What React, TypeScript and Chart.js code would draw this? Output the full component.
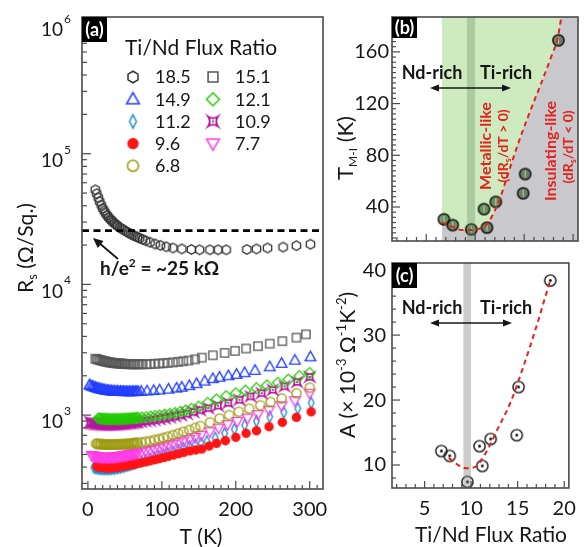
import React, { useEffect, useRef } from 'react';
import { Chart, registerables } from 'chart.js';

Chart.register(...registerables);

// ---------------- Panel (a): Rs vs T for each Ti/Nd flux ratio ----------------
const SERIES_LABELS = ['18.5', '15.1', '14.9', '12.1', '11.2', '10.9', '9.6', '7.7', '6.8'];

const T_185 = [10, 12, 14, 16, 18, 20, 22, 24, 26, 28, 30, 32, 34, 36, 38, 40, 43, 46, 49, 52, 55, 58, 61, 64, 67, 70, 74, 78, 84, 91, 98, 106, 115, 127, 140, 151, 165, 176, 187, 215, 228, 243, 264, 282, 301];
const R_185 = [53000, 49500, 46000, 43000, 40500, 38200, 36500, 35000, 33700, 32600, 31600, 30800, 30000, 29300, 28700, 28100, 27300, 26600, 26000, 25400, 24800, 24300, 23800, 23400, 23000, 22600, 22100, 21600, 21000, 20400, 19900, 19400, 19000, 18700, 18500, 18400, 18400, 18400, 18400, 18500, 18700, 19000, 19300, 19800, 20300];

const T_151 = [10, 12, 14, 16, 18, 20, 22, 24, 26, 28, 30, 32, 34, 36, 38, 40, 42, 44, 46, 48, 50, 52, 55, 58, 61, 64, 67, 70, 74, 79, 84, 90, 96, 102, 108, 115, 122, 129, 136, 145, 154, 169, 185, 199, 214, 230, 246, 263, 282, 295];
const R_151 = [2700, 2680, 2660, 2640, 2620, 2600, 2585, 2570, 2555, 2540, 2530, 2520, 2510, 2500, 2495, 2490, 2485, 2480, 2475, 2470, 2465, 2460, 2455, 2450, 2450, 2450, 2450, 2450, 2452, 2455, 2460, 2470, 2480, 2495, 2510, 2530, 2555, 2585, 2615, 2670, 2750, 2870, 2990, 3100, 3230, 3370, 3520, 3680, 3920, 4150];

const T_149 = [2, 4, 6, 8, 10, 12, 14, 16, 18, 20, 22, 24, 26, 28, 30, 32, 34, 36, 38, 40, 42, 44, 46, 48, 50, 52, 54, 56, 58, 60, 62, 64, 66, 68, 72, 80, 89, 97, 109, 120, 127, 137, 147, 158, 169, 178, 190, 201, 212, 226, 246, 262, 280, 301];
const R_149 = [1700, 1680, 1660, 1645, 1630, 1615, 1600, 1590, 1580, 1570, 1560, 1552, 1545, 1540, 1535, 1530, 1527, 1524, 1522, 1520, 1518, 1516, 1515, 1514, 1513, 1512, 1512, 1512, 1512, 1512, 1513, 1514, 1515, 1516, 1520, 1530, 1542, 1555, 1580, 1610, 1635, 1680, 1740, 1820, 1900, 1950, 2000, 2050, 2110, 2200, 2340, 2490, 2630, 2790];

const T_121 = [14, 16, 18, 20, 22, 24, 26, 28, 30, 32, 34, 36, 38, 40, 42, 44, 46, 48, 50, 52, 54, 56, 58, 60, 62, 64, 66, 68, 73, 79, 85, 91, 97, 104, 111, 118, 125, 132, 140, 150, 162, 174, 187, 200, 213, 228, 242, 257, 271, 286, 300];
const R_121 = [945, 942, 940, 938, 936, 935, 934, 933, 932, 932, 932, 932, 932, 932, 933, 934, 935, 936, 937, 938, 940, 942, 944, 946, 948, 950, 952, 954, 958, 965, 975, 985, 997, 1010, 1025, 1040, 1060, 1085, 1115, 1160, 1240, 1320, 1400, 1470, 1540, 1610, 1690, 1770, 1870, 1990, 2100];

const T_112 = [8, 10, 12, 14, 16, 18, 20, 22, 24, 26, 28, 30, 32, 34, 36, 38, 40, 42, 44, 46, 48, 50, 52, 54, 56, 58, 60, 62, 64, 66, 72, 78, 84, 90, 96, 102, 108, 115, 122, 129, 137, 145, 153, 161, 172, 185, 198, 212, 228, 246, 265, 284, 302];
const R_112 = [398, 395, 393, 391, 390, 389, 388, 388, 388, 388, 388, 389, 390, 391, 392, 394, 396, 398, 400, 402, 405, 408, 411, 414, 417, 420, 423, 426, 430, 434, 442, 452, 462, 473, 485, 497, 510, 525, 541, 558, 577, 597, 612, 630, 670, 724, 780, 839, 900, 970, 1050, 1125, 1240];

const T_109 = [3, 5, 7, 9, 11, 13, 15, 17, 19, 21, 23, 25, 27, 29, 31, 33, 35, 37, 39, 41, 43, 45, 47, 49, 51, 53, 55, 57, 59, 61, 63, 65, 67, 72, 78, 84, 90, 97, 104, 111, 118, 126, 134, 143, 152, 163, 176, 190, 205, 220, 235, 250, 266, 283, 300];
const R_109 = [880, 872, 866, 862, 858, 855, 853, 851, 850, 849, 848, 848, 848, 848, 848, 849, 850, 851, 852, 853, 855, 857, 859, 861, 863, 866, 869, 872, 875, 878, 881, 884, 887, 893, 900, 910, 920, 932, 946, 962, 980, 1000, 1025, 1055, 1090, 1130, 1180, 1240, 1310, 1390, 1470, 1560, 1660, 1790, 1960];

const T_96 = [12, 14, 16, 18, 20, 22, 24, 26, 28, 30, 32, 34, 36, 38, 40, 42, 44, 46, 48, 50, 52, 54, 56, 58, 60, 62, 64, 66, 68, 73, 79, 85, 91, 97, 103, 109, 116, 123, 130, 138, 146, 154, 164, 174, 186, 200, 214, 228, 245, 263, 282, 302];
const R_96 = [405, 402, 400, 398, 397, 396, 395, 395, 395, 395, 396, 397, 398, 399, 400, 402, 404, 406, 408, 410, 412, 414, 416, 418, 420, 422, 424, 426, 428, 433, 440, 448, 456, 465, 474, 484, 495, 507, 519, 532, 541, 550, 580, 608, 637, 676, 725, 759, 815, 880, 960, 1059];

const T_77 = [5, 7, 9, 11, 13, 15, 17, 19, 21, 23, 25, 27, 29, 31, 33, 35, 37, 39, 41, 43, 45, 47, 49, 51, 53, 55, 57, 59, 61, 63, 65, 67, 72, 78, 84, 90, 96, 102, 108, 115, 122, 129, 137, 145, 153, 165, 177, 189, 202, 216, 230, 245, 262, 280, 300];
const R_77 = [492, 488, 485, 482, 480, 478, 477, 476, 475, 475, 475, 475, 475, 476, 477, 478, 479, 480, 482, 484, 486, 488, 490, 492, 494, 497, 500, 503, 506, 509, 512, 515, 520, 528, 537, 547, 558, 570, 583, 598, 614, 632, 652, 675, 700, 746, 795, 845, 895, 950, 1010, 1090, 1180, 1290, 1470];

const T_68 = [11, 13, 15, 17, 19, 21, 23, 25, 27, 29, 31, 33, 35, 37, 39, 41, 43, 45, 47, 49, 51, 53, 55, 57, 59, 61, 63, 65, 67, 72, 78, 84, 90, 96, 102, 108, 115, 122, 129, 137, 145, 152, 165, 178, 191, 204, 218, 233, 247, 262, 282, 300];
const R_68 = [605, 603, 601, 600, 599, 598, 597, 596, 596, 596, 596, 596, 596, 596, 597, 597, 598, 598, 599, 600, 601, 602, 603, 605, 607, 609, 611, 613, 615, 619, 626, 634, 645, 657, 670, 684, 702, 722, 745, 770, 798, 825, 880, 940, 1000, 1060, 1120, 1190, 1260, 1340, 1470, 1620];

const H_E2 = 25812; // h/e^2 in ohm
const A_X_LABELS = [0, 100, 200, 300];
const A_Y_DECADES = [1e3, 1e4, 1e5, 1e6];

// ---------------- Panels (b) and (c) ----------------
const FLUX = [6.8, 7.7, 9.6, 10.9, 11.2, 12.1, 14.9, 15.1, 18.5];
const T_MI = [30.5, 26, 22.7, 38.4, 24, 44, 50.6, 65.5, 169];
const A_COEF = [12.15, 11.4, 7.4, 12.9, 9.85, 14.0, 14.6, 22.0, 38.4];

const B_BOUND_X = [6.6, 7.7, 8.6, 9.4, 10.3, 11.1, 11.8, 12.5, 13.2, 14.2, 15.4, 16.6, 17.8, 18.4, 18.8];
const B_BOUND_Y = [28, 24.8, 22.2, 22.2, 23.0, 26, 34, 46, 62, 85, 110, 133, 157, 170, 187];
const C_FIT_X = [7.6, 8.6, 9.5, 10.45, 11.2, 12.0, 12.8, 14.25, 15.6, 16.9, 18.45];
const C_FIT_Y = [11.1, 10.0, 9.5, 9.7, 11.0, 13.0, 15.4, 19.7, 25.1, 30.8, 38.2];
const STOICH_BAND = [9.15, 10.0];
const METALLIC_START = 6.6;
const B_Y_LABELS = [40, 80, 120, 160];
const C_Y_LABELS = [10, 20, 30, 40];
const BC_X_LABELS = [5, 10, 15, 20];

// ---------------- drawing helpers ----------------
const FONT = 'Lato, "Open Sans", "DejaVu Sans", sans-serif';
const INK = '#161616';
const FRAME = '#4a4a4a';
const RED = '#e3221b';
const W = 585;
const H = 547;

const fnt = (s: number, b = false) => `${b ? 'bold ' : ''}${s}px ${FONT}`;

function mk(kind: string, color: string, r: number, lw = 1.3): HTMLCanvasElement {
  const s = Math.ceil(2 * r + lw + 4);
  const c = document.createElement('canvas');
  c.width = s;
  c.height = s;
  const g = c.getContext('2d') as CanvasRenderingContext2D;
  const cx = s / 2;
  const cy = s / 2;
  g.lineWidth = lw;
  g.strokeStyle = color;
  g.fillStyle = color;
  g.beginPath();
  if (kind === 'hex') {
    for (let i = 0; i < 6; i++) {
      const a = Math.PI / 6 + (i * Math.PI) / 3;
      const x = cx + r * Math.cos(a);
      const y = cy + r * Math.sin(a);
      if (i === 0) g.moveTo(x, y);
      else g.lineTo(x, y);
    }
    g.closePath();
    g.stroke();
  } else if (kind === 'square') {
    const k = r * 0.82;
    g.rect(cx - k, cy - k, 2 * k, 2 * k);
    g.stroke();
  } else if (kind === 'tri') {
    g.moveTo(cx, cy - r);
    g.lineTo(cx + r * 0.95, cy + r * 0.68);
    g.lineTo(cx - r * 0.95, cy + r * 0.68);
    g.closePath();
    g.stroke();
  } else if (kind === 'tridown') {
    g.moveTo(cx, cy + r);
    g.lineTo(cx + r * 0.95, cy - r * 0.68);
    g.lineTo(cx - r * 0.95, cy - r * 0.68);
    g.closePath();
    g.stroke();
  } else if (kind === 'diamond') {
    g.moveTo(cx, cy - r);
    g.lineTo(cx + r, cy);
    g.lineTo(cx, cy + r);
    g.lineTo(cx - r, cy);
    g.closePath();
    g.stroke();
  } else if (kind === 'ndiamond') {
    g.moveTo(cx, cy - r);
    g.lineTo(cx + r * 0.5, cy);
    g.lineTo(cx, cy + r);
    g.lineTo(cx - r * 0.5, cy);
    g.closePath();
    g.stroke();
  } else if (kind === 'star4') {
    const k = r * 0.8;
    const q = k * 0.35;
    g.moveTo(cx - k, cy - k);
    g.quadraticCurveTo(cx, cy - q, cx + k, cy - k);
    g.quadraticCurveTo(cx + q, cy, cx + k, cy + k);
    g.quadraticCurveTo(cx, cy + q, cx - k, cy + k);
    g.quadraticCurveTo(cx - q, cy, cx - k, cy - k);
    g.closePath();
    g.lineWidth = lw + 0.4;
    g.stroke();
    g.beginPath();
    g.fillStyle = '#3b6b2a';
    g.arc(cx, cy, 1.1, 0, Math.PI * 2);
    g.fill();
  } else if (kind === 'circle') {
    g.arc(cx, cy, r, 0, Math.PI * 2);
    g.stroke();
  } else if (kind === 'fcircle') {
    g.arc(cx, cy, r, 0, Math.PI * 2);
    g.fill();
  } else if (kind === 'phi') {
    g.arc(cx, cy, r, 0, Math.PI * 2);
    g.fillStyle = 'rgba(10,50,0,0.5)';
    g.fill();
    g.stroke();
    g.beginPath();
    g.lineWidth = 1;
    g.strokeStyle = 'rgba(200,220,190,0.9)';
    g.moveTo(cx, cy - r * 0.6);
    g.lineTo(cx, cy + r * 0.6);
    g.stroke();
  } else if (kind === 'odot') {
    g.arc(cx, cy, r, 0, Math.PI * 2);
    g.stroke();
    g.beginPath();
    g.arc(cx, cy, 1.4, 0, Math.PI * 2);
    g.fill();
  }
  return c;
}

type Part = { t: string; s: number; dy?: number; b?: boolean };
function rich(ctx: any, parts: Part[], x: number, y: number, rot = 0, align = 'center', color = INK) {
  ctx.save();
  ctx.translate(x, y);
  if (rot) ctx.rotate(rot);
  ctx.fillStyle = color;
  ctx.textBaseline = 'alphabetic';
  ctx.textAlign = 'left';
  let w = 0;
  let maxS = 0;
  for (const p of parts) {
    ctx.font = fnt(p.s, p.b);
    w += ctx.measureText(p.t).width;
    maxS = Math.max(maxS, p.s);
  }
  let cx = align === 'center' ? -w / 2 : 0;
  const base = maxS * 0.36;
  for (const p of parts) {
    ctx.font = fnt(p.s, p.b);
    ctx.fillText(p.t, cx, base + (p.dy || 0));
    cx += ctx.measureText(p.t).width;
  }
  ctx.restore();
}

function head(ctx: any, x: number, y: number, ang: number, len = 8, half = 4) {
  ctx.beginPath();
  ctx.moveTo(x, y);
  ctx.lineTo(x - len * Math.cos(ang) + half * Math.sin(ang), y - len * Math.sin(ang) - half * Math.cos(ang));
  ctx.lineTo(x - len * Math.cos(ang) - half * Math.sin(ang), y - len * Math.sin(ang) + half * Math.cos(ang));
  ctx.closePath();
  ctx.fill();
}

function doubleArrow(ctx: any, x1: number, x2: number, y: number) {
  ctx.strokeStyle = INK;
  ctx.fillStyle = INK;
  ctx.lineWidth = 1.4;
  ctx.beginPath();
  ctx.moveTo(x1 + 4, y);
  ctx.lineTo(x2 - 4, y);
  ctx.stroke();
  head(ctx, x1, y, Math.PI, 9, 3.5);
  head(ctx, x2, y, 0, 9, 3.5);
}

function panelTag(ctx: any, tag: string, x: number, y: number, w: number, h: number) {
  ctx.fillStyle = '#000';
  ctx.fillRect(x, y, w, h);
  ctx.fillStyle = '#fff';
  ctx.font = fnt(18, true);
  ctx.textAlign = 'center';
  ctx.textBaseline = 'middle';
  ctx.fillText(tag, x + w / 2, y + h / 2 + 1);
}

type TickSpec = { id: string; side: string; major: (v: number) => boolean; maj: number; min: number };
function framePlugin(specs: TickSpec[], extra: (ctx: any, chart: any) => void) {
  return {
    id: 'frameTicks',
    afterDraw(chart: any) {
      const ctx = chart.ctx;
      const a = chart.chartArea;
      ctx.save();
      ctx.strokeStyle = FRAME;
      ctx.lineWidth = 1.2;
      for (const s of specs) {
        const sc = chart.scales[s.id];
        for (const t of sc.ticks) {
          const p = sc.getPixelForValue(t.value);
          const len = s.major(t.value) ? s.maj : s.min;
          ctx.beginPath();
          if (s.side === 'left') {
            if (p < a.top + 1 || p > a.bottom - 1) continue;
            ctx.moveTo(a.left, p);
            ctx.lineTo(a.left + len, p);
          } else {
            if (p < a.left + 1 || p > a.right - 1) continue;
            ctx.moveTo(p, a.bottom);
            ctx.lineTo(p, a.bottom - len);
          }
          ctx.stroke();
        }
      }
      ctx.lineWidth = 1.6;
      ctx.strokeRect(a.left, a.top, a.right - a.left, a.bottom - a.top);
      extra(ctx, chart);
      ctx.restore();
    },
  };
}

const range = (a: number, b: number, s: number) => {
  const out: number[] = [];
  for (let v = a; v <= b + 1e-9; v += s) out.push(Math.round(v * 1000) / 1000);
  return out;
};

const baseOpts = (pad: any) => ({
  animation: false,
  responsive: false,
  devicePixelRatio: 1,
  events: [],
  layout: { padding: pad, autoPadding: false },
  plugins: { legend: { display: false }, tooltip: { enabled: false }, title: { display: false } },
});

const hidden = { grid: { display: false, drawTicks: false }, border: { display: false } };

// ---------------- chart builders ----------------
function buildA(canvas: HTMLCanvasElement) {
  const series = [T_185, T_151, T_149, T_121, T_112, T_109, T_96, T_77, T_68];
  const values = [R_185, R_151, R_149, R_121, R_112, R_109, R_96, R_77, R_68];
  const styles: [string, string, number, number][] = [
    ['hex', '#333333', 4.8, 9],
    ['square', '#545454', 5, 8],
    ['tri', '#1f3cff', 5.6, 7],
    ['diamond', '#22cc00', 5.4, 1],
    ['ndiamond', '#1b8bd6', 5.6, 6],
    ['star4', '#b8169f', 5, 2],
    ['fcircle', '#ff1414', 4.7, 5],
    ['tridown', '#ff3be4', 5.6, 4],
    ['circle', '#9c9a0c', 4.6, 3],
  ];
  const datasets: any[] = series.map((T, i) => ({
    type: 'scatter',
    label: SERIES_LABELS[i],
    data: T.map((t, j) => ({ x: t, y: values[i][j] })),
    pointStyle: mk(styles[i][0], styles[i][1], styles[i][2], 1.3),
    pointRadius: 4,
    order: styles[i][3],
  }));
  datasets.push({
    type: 'line',
    label: 'h/e2',
    data: [{ x: -8, y: H_E2 }, { x: 318, y: H_E2 }],
    borderColor: '#000',
    borderWidth: 2.6,
    borderDash: [7, 4.5],
    pointRadius: 0,
    order: 0,
  });
  const legendMarks = styles.map((s) => mk(s[0], s[1], s[2] * 1.2, 1.5));

  const extra = (ctx: any, chart: any) => {
    const ys = chart.scales.y;
    ctx.fillStyle = INK;
    for (const d of A_Y_DECADES) {
      const p = ys.getPixelForValue(d);
      ctx.font = fnt(19);
      ctx.textAlign = 'right';
      ctx.textBaseline = 'middle';
      ctx.fillText('10', 63, p + 7);
      ctx.font = fnt(12);
      ctx.textAlign = 'left';
      ctx.fillText(String(Math.round(Math.log10(d))), 64, p - 4);
    }
    rich(ctx, [{ t: 'R', s: 21 }, { t: 's', s: 13, dy: 4 }, { t: ' (Ω/Sq.)', s: 21 }], 25, 248, -Math.PI / 2);
    rich(ctx, [{ t: 'T (K)', s: 21 }], 201, 536);
    rich(ctx, [{ t: 'Ti/Nd Flux Ratio', s: 21 }], 125, 47, 0, 'left');
    SERIES_LABELS.forEach((lab, i) => {
      const row = Math.floor(i / 2);
      const col = i % 2;
      const y = 77 + row * 22.2;
      const mx = col === 0 ? 133 : 213;
      const m = legendMarks[i];
      ctx.drawImage(m, mx - m.width / 2, y - m.height / 2);
      rich(ctx, [{ t: lab, s: 18 }], col === 0 ? 155 : 235, y, 0, 'left');
    });
    rich(ctx, [{ t: 'h/e', s: 19, b: true }, { t: '2', s: 12, b: true, dy: -8 }, { t: ' = ~25 kΩ', s: 19, b: true }], 100, 268, 0, 'left');
    ctx.strokeStyle = INK;
    ctx.fillStyle = INK;
    ctx.lineWidth = 1.8;
    ctx.beginPath();
    ctx.moveTo(118, 259);
    ctx.lineTo(98, 242);
    ctx.stroke();
    head(ctx, 93, 238, Math.atan2(238 - 259, 93 - 118), 10, 4.5);
    panelTag(ctx, '(a)', 82, 17, 25, 25);
  };

  return new Chart(canvas, {
    type: 'scatter',
    data: { datasets },
    options: {
      ...baseOpts({ left: 0, top: 17, right: W - 323, bottom: 0 }),
      scales: {
        x: {
          type: 'linear',
          min: -8,
          max: 318,
          ...hidden,
          afterFit: (s: any) => { s.height = H - 489; },
          afterBuildTicks: (s: any) => { s.ticks = range(0, 310, 10).map((v) => ({ value: v })); },
          ticks: {
            autoSkip: false,
            maxRotation: 0,
            padding: 9,
            color: INK,
            font: { family: FONT, size: 20 },
            callback: (v: any) => (A_X_LABELS.includes(Number(v)) ? String(v) : ''),
          },
        },
        y: {
          type: 'logarithmic',
          min: 272,
          max: 1.112e6,
          ...hidden,
          afterFit: (s: any) => { s.width = 82; },
          afterBuildTicks: (s: any) => {
            const t: any[] = [];
            for (let e = 2; e <= 6; e++) for (let k = 1; k <= 9; k++) {
              const v = k * Math.pow(10, e);
              if (v >= 272 && v <= 1.112e6) t.push({ value: v });
            }
            s.ticks = t;
          },
          ticks: { display: false },
        },
      },
    } as any,
    plugins: [
      framePlugin(
        [
          { id: 'x', side: 'bottom', major: (v) => v % 100 === 0, maj: 8, min: 4 },
          { id: 'y', side: 'left', major: (v) => Math.abs(Math.log10(v) - Math.round(Math.log10(v))) < 1e-6, maj: 9, min: 5 },
        ],
        extra,
      ),
    ],
  } as any);
}

function bcX(showLabels: boolean, height: number) {
  return {
    type: 'linear',
    min: 1.5,
    max: 20.5,
    ...hidden,
    afterFit: (s: any) => { s.height = height; },
    afterBuildTicks: (s: any) => { s.ticks = range(2, 20, 1).map((v) => ({ value: v })); },
    ticks: {
      display: showLabels,
      autoSkip: false,
      maxRotation: 0,
      padding: 9,
      color: INK,
      font: { family: FONT, size: 20 },
      callback: (v: any) => (BC_X_LABELS.includes(Number(v)) ? String(v) : ''),
    },
  };
}

function buildB(canvas: HTMLCanvasElement) {
  const YMIN = 13.7;
  const YMAX = 187;
  const datasets: any[] = [
    {
      type: 'line',
      label: 'metallic region',
      data: [{ x: METALLIC_START, y: YMAX }, { x: 20.5, y: YMAX }],
      borderWidth: 0,
      pointRadius: 0,
      fill: 'start',
      backgroundColor: '#cdebbf',
      order: 20,
    },
    {
      type: 'line',
      label: 'insulating region',
      data: [...B_BOUND_X.map((x, i) => ({ x, y: B_BOUND_Y[i] })), { x: 20.5, y: YMAX }],
      borderWidth: 0,
      pointRadius: 0,
      fill: 'start',
      backgroundColor: '#c9c9cd',
      cubicInterpolationMode: 'monotone',
      order: 19,
    },
    {
      type: 'scatter',
      label: 'T M-I',
      data: FLUX.map((x, i) => ({ x, y: T_MI[i] })),
      pointStyle: mk('phi', '#111', 5.6, 1.5),
      pointRadius: 5,
      order: 5,
    },
    {
      type: 'line',
      label: 'stoichiometric',
      data: [{ x: STOICH_BAND[0], y: YMAX }, { x: STOICH_BAND[1], y: YMAX }],
      borderWidth: 0,
      pointRadius: 0,
      fill: 'start',
      backgroundColor: 'rgba(110,140,100,0.35)',
      order: 3,
    },
    {
      type: 'line',
      label: 'boundary',
      data: B_BOUND_X.map((x, i) => ({ x, y: B_BOUND_Y[i] })),
      borderColor: RED,
      borderWidth: 2,
      borderDash: [5, 4],
      pointRadius: 0,
      cubicInterpolationMode: 'monotone',
      order: 1,
    },
  ];
  const extra = (ctx: any) => {
    rich(ctx, [{ t: 'T', s: 22 }, { t: 'M-I', s: 12, dy: 4 }, { t: ' (K)', s: 22 }], 345, 148, -Math.PI / 2);
    rich(ctx, [{ t: 'Nd-rich', s: 18, b: true }], 432, 73);
    rich(ctx, [{ t: 'Ti-rich', s: 18, b: true }], 506, 73);
    doubleArrow(ctx, 430, 511, 88);
    rich(ctx, [{ t: 'Metallic-like', s: 16, b: true }], 485, 146, -Math.PI / 2, 'center', RED);
    rich(ctx, [{ t: '(dR', s: 14, b: true }, { t: 's', s: 9, b: true, dy: 3 }, { t: '/dT > 0)', s: 14, b: true }], 503, 146, -Math.PI / 2, 'center', RED);
    rich(ctx, [{ t: 'Insulating-like', s: 16, b: true }], 550, 151, -Math.PI / 2, 'center', RED);
    rich(ctx, [{ t: '(dR', s: 14, b: true }, { t: 's', s: 9, b: true, dy: 3 }, { t: '/dT < 0)', s: 14, b: true }], 568, 147, -Math.PI / 2, 'center', RED);
    panelTag(ctx, '(b)', 392, 17, 25, 21);
  };
  return new Chart(canvas, {
    type: 'scatter',
    data: { datasets },
    options: {
      ...baseOpts({ left: 0, top: 17, right: W - 578, bottom: 0 }),
      scales: {
        x: bcX(false, H - 241),
        y: {
          type: 'linear',
          min: YMIN,
          max: YMAX,
          ...hidden,
          afterFit: (s: any) => { s.width = 392; },
          afterBuildTicks: (s: any) => { s.ticks = range(16, 184, 4).map((v) => ({ value: v })); },
          ticks: {
            autoSkip: false,
            padding: 3,
            color: INK,
            font: { family: FONT, size: 20 },
            callback: (v: any) => (B_Y_LABELS.includes(Number(v)) ? String(v) : ''),
          },
        },
      },
    } as any,
    plugins: [
      framePlugin(
        [
          { id: 'x', side: 'bottom', major: (v) => v % 5 === 0, maj: 7, min: 4 },
          { id: 'y', side: 'left', major: (v) => B_Y_LABELS.includes(v), maj: 8, min: 4 },
        ],
        extra,
      ),
    ],
  } as any);
}

function buildC(canvas: HTMLCanvasElement) {
  const YMIN = 6.46;
  const YMAX = 41.1;
  const datasets: any[] = [
    {
      type: 'scatter',
      label: 'A',
      data: FLUX.map((x, i) => ({ x, y: A_COEF[i] })),
      pointStyle: mk('odot', '#111', 5.6, 1.4),
      pointRadius: 5,
      order: 5,
    },
    {
      type: 'line',
      label: 'stoichiometric',
      data: [{ x: STOICH_BAND[0], y: YMAX }, { x: STOICH_BAND[1], y: YMAX }],
      borderWidth: 0,
      pointRadius: 0,
      fill: 'start',
      backgroundColor: 'rgba(120,120,120,0.38)',
      order: 3,
    },
    {
      type: 'line',
      label: 'fit',
      data: C_FIT_X.map((x, i) => ({ x, y: C_FIT_Y[i] })),
      borderColor: RED,
      borderWidth: 2,
      borderDash: [5, 4],
      pointRadius: 0,
      cubicInterpolationMode: 'monotone',
      order: 1,
    },
  ];
  const extra = (ctx: any) => {
    rich(
      ctx,
      [
        { t: 'A (× 10', s: 21 },
        { t: '-3', s: 13, dy: -9 },
        { t: ' Ω', s: 21 },
        { t: '-1', s: 13, dy: -9 },
        { t: 'K', s: 21 },
        { t: '-2', s: 13, dy: -9 },
        { t: ')', s: 21 },
      ],
      347,
      365,
      -Math.PI / 2,
    );
    rich(ctx, [{ t: 'Ti/Nd Flux Ratio', s: 21 }], 491, 534);
    rich(ctx, [{ t: 'Nd-rich', s: 18, b: true }], 432, 308);
    rich(ctx, [{ t: 'Ti-rich', s: 18, b: true }], 506, 308);
    doubleArrow(ctx, 430, 512, 323);
    panelTag(ctx, '(c)', 392, 263, 25, 25);
  };
  return new Chart(canvas, {
    type: 'scatter',
    data: { datasets },
    options: {
      ...baseOpts({ left: 0, top: 263, right: W - 578, bottom: 0 }),
      scales: {
        x: bcX(true, H - 488),
        y: {
          type: 'linear',
          min: YMIN,
          max: YMAX,
          ...hidden,
          afterFit: (s: any) => { s.width = 392; },
          afterBuildTicks: (s: any) => { s.ticks = range(8, 40, 2).map((v) => ({ value: v })); },
          ticks: {
            autoSkip: false,
            padding: 6,
            color: INK,
            font: { family: FONT, size: 20 },
            callback: (v: any) => (C_Y_LABELS.includes(Number(v)) ? String(v) : ''),
          },
        },
      },
    } as any,
    plugins: [
      framePlugin(
        [
          { id: 'x', side: 'bottom', major: (v) => v % 5 === 0, maj: 7, min: 4 },
          { id: 'y', side: 'left', major: (v) => C_Y_LABELS.includes(v), maj: 8, min: 4 },
        ],
        extra,
      ),
    ],
  } as any);
}

export default function App() {
  const aRef = useRef<HTMLCanvasElement>(null);
  const bRef = useRef<HTMLCanvasElement>(null);
  const cRef = useRef<HTMLCanvasElement>(null);

  useEffect(() => {
    const charts = [buildA(aRef.current!), buildB(bRef.current!), buildC(cRef.current!)];
    return () => charts.forEach((c) => c.destroy());
  }, []);

  const cs: React.CSSProperties = { position: 'absolute', left: 0, top: 0, width: W, height: H };
  return (
    <div style={{ position: 'absolute', left: 0, top: 0, width: W, height: H, background: '#fff', overflow: 'hidden' }}>
      <canvas ref={aRef} width={W} height={H} style={cs} />
      <canvas ref={bRef} width={W} height={H} style={cs} />
      <canvas ref={cRef} width={W} height={H} style={cs} />
    </div>
  );
}
